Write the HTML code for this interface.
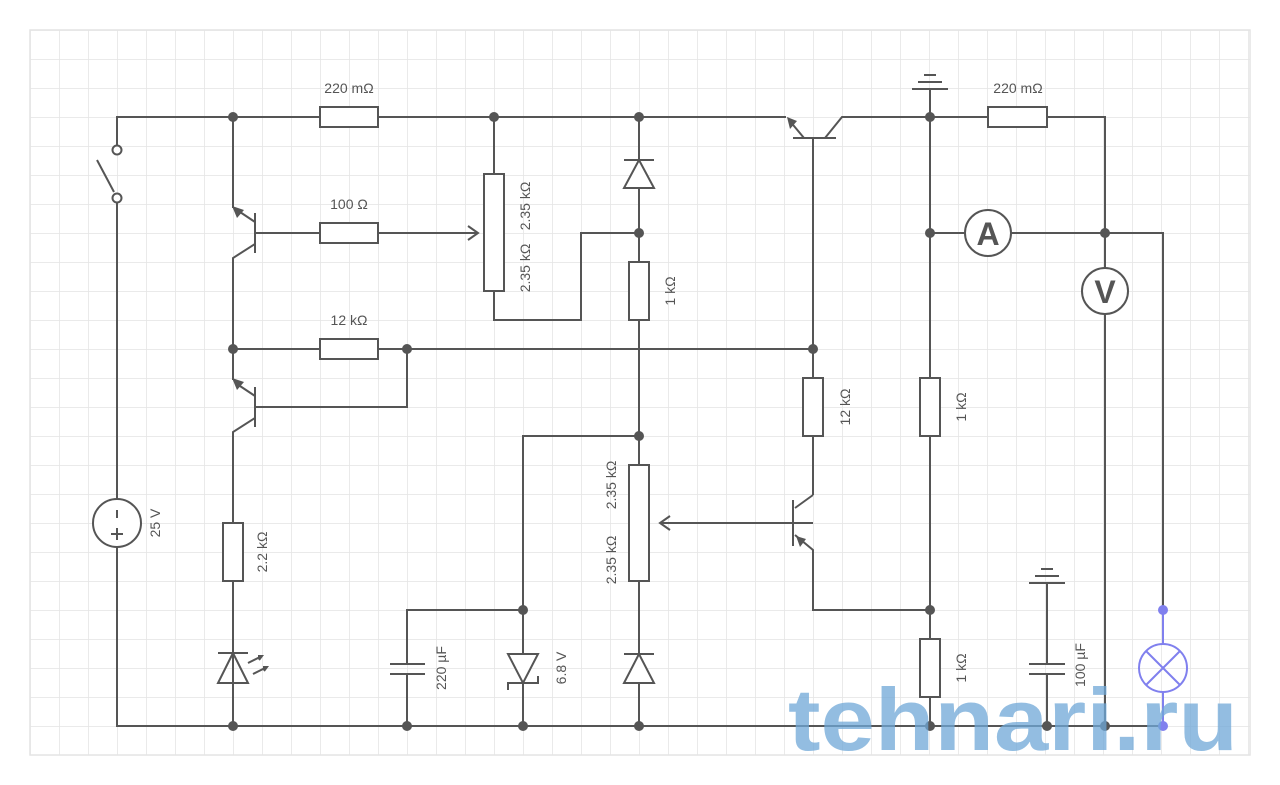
<!DOCTYPE html>
<html><head><meta charset="utf-8"><style>
body{margin:0;background:#fff;}
svg{display:block;}
text{font-family:"Liberation Sans",sans-serif;font-size:14px;fill:#555;}
</style></head><body>
<svg width="1280" height="785" viewBox="0 0 1280 785" xmlns="http://www.w3.org/2000/svg">
<defs>
<pattern id="g" x="30" y="30" width="29" height="29" patternUnits="userSpaceOnUse">
<path d="M0 0H29M0 0V29" stroke="#e4e4e4" stroke-width="1.5" fill="none"/>
</pattern>
</defs>
<rect x="30" y="30" width="1220" height="725" fill="url(#g)"/>
<rect x="30" y="30" width="1220" height="725" fill="none" stroke="#e4e4e4" stroke-width="1.5"/>
<g stroke="#555" stroke-width="2" fill="none">
<!-- top wire -->
<path d="M117 150V117H320M378 117H786"/>
<rect x="320" y="107" width="58" height="20" fill="#fff"/>
<!-- switch -->
<circle cx="117" cy="150" r="4.5" fill="#fff"/>
<circle cx="117" cy="198" r="4.5" fill="#fff"/>
<path d="M97 160L114 192"/>
<path d="M117 203V499M117 547V726H1163"/>
<circle cx="117" cy="523" r="24" fill="#fff"/>
<path d="M117 510V518M117 528V540M111 534H123"/>
<!-- T1 -->
<path d="M233 117V208"/>
<path d="M255 213V253M255 233H320M378 233H478M468 226L478 233L468 240"/>
<rect x="320" y="223" width="58" height="20" fill="#fff"/>
<path d="M255 222L237 210"/>
<path d="M255 244L233 258V349H320M378 349H813"/>
<rect x="320" y="339" width="58" height="20" fill="#fff"/>
<!-- T2 -->
<path d="M233 349V380"/>
<path d="M255 387V427M255 407H407V349"/>
<path d="M255 396L237 384"/>
<path d="M255 418L233 432V523M233 581V726"/>
<rect x="223" y="523" width="20" height="58" fill="#fff"/>
<!-- LED -->
<path d="M218 653H248M233 653L218 683H248Z"/>
<path d="M248 663L262 656M258 656L262 656L259 660M253 674L267 667M263 667L267 667L264 671"/>
<!-- pot1 -->
<path d="M494 117V174M494 291V320H581V233H639"/>
<rect x="484" y="174" width="20" height="117" fill="#fff"/>
<!-- column 639 -->
<path d="M639 117V726"/>
<rect x="629" y="262" width="20" height="58" fill="#fff"/>
<rect x="629" y="465" width="20" height="116" fill="#fff"/>
<path d="M624 160H654M639 160L624 188H654Z" fill="#fff"/>
<path d="M624 654H654M639 654L624 683H654Z" fill="#fff"/>
<path d="M813 523H660M670 516L660 523L670 530"/>
<!-- zener and cap -->
<path d="M639 436H523V726M523 610H407V664M407 674V726"/>
<path d="M390 664H425M390 674H425"/>
<path d="M508 654H538L523 683Z" fill="#fff"/>
<path d="M508 690V683H538V676"/>
<!-- T3 -->
<path d="M793 138H836M813 138V378M813 436V495"/>
<rect x="803" y="378" width="20" height="58" fill="#fff"/>
<path d="M804 138L789 120"/>
<path d="M825 138L842 117H988M1047 117H1105V268M1105 314V726"/>
<rect x="988" y="107" width="59" height="20" fill="#fff"/>
<!-- T4 -->
<path d="M793 500V546M813 495L795 508M795 535L813 550V610H930"/>
<!-- column 930 -->
<path d="M930 89V726"/>
<path d="M924 75H936M918 82H942M912 89H948"/>
<rect x="920" y="378" width="20" height="58" fill="#fff"/>
<rect x="920" y="639" width="20" height="58" fill="#fff"/>
<!-- meters -->
<path d="M930 233H1163V610"/>
<circle cx="988" cy="233" r="23" fill="#fff"/>
<circle cx="1105" cy="291" r="23" fill="#fff"/>
<!-- cap 100uF -->
<path d="M1041 569H1053M1035 576H1059M1029 583H1065M1047 583V664M1047 674V726M1029 664H1065M1029 674H1065"/>
</g>
<!-- arrowheads -->
<g fill="#555">
<path d="M232 206L244 210L237 218Z"/>
<path d="M232 378L244 382L237 390Z"/>
<path d="M787 117L797 121L790 129Z"/>
<path d="M796 536L806 539L800 547Z"/>
</g>
<!-- lamp -->
<g stroke="#8080ee" stroke-width="2" fill="none">
<path d="M1163 610V644M1163 692V726"/>
<circle cx="1163" cy="668" r="24"/>
<path d="M1146 651L1180 685M1180 651L1146 685"/>
</g>
<g fill="#8080ee"><circle cx="1163" cy="610" r="5"/><circle cx="1163" cy="726" r="5"/></g>
<!-- dots -->
<g fill="#555">
<circle cx="233" cy="117" r="5"/><circle cx="494" cy="117" r="5"/><circle cx="639" cy="117" r="5"/><circle cx="930" cy="117" r="5"/>
<circle cx="639" cy="233" r="5"/><circle cx="930" cy="233" r="5"/><circle cx="1105" cy="233" r="5"/>
<circle cx="233" cy="349" r="5"/><circle cx="407" cy="349" r="5"/><circle cx="813" cy="349" r="5"/>
<circle cx="639" cy="436" r="5"/><circle cx="523" cy="610" r="5"/><circle cx="930" cy="610" r="5"/>
<circle cx="233" cy="726" r="5"/><circle cx="407" cy="726" r="5"/><circle cx="523" cy="726" r="5"/><circle cx="639" cy="726" r="5"/>
<circle cx="930" cy="726" r="5"/><circle cx="1047" cy="726" r="5"/><circle cx="1105" cy="726" r="5"/>
</g>
<text x="988" y="245" text-anchor="middle" style="font-size:32px;font-weight:bold">A</text>
<text x="1105" y="303" text-anchor="middle" style="font-size:32px;font-weight:bold">V</text>
<!-- labels -->
<text x="349" y="93" text-anchor="middle">220 mΩ</text>
<text x="349" y="209" text-anchor="middle">100 Ω</text>
<text x="349" y="325" text-anchor="middle">12 kΩ</text>
<text x="1018" y="93" text-anchor="middle">220 mΩ</text>
<g text-anchor="middle">
<text transform="translate(160 523) rotate(-90)">25 V</text>
<text transform="translate(267 552) rotate(-90)">2.2 kΩ</text>
<text transform="translate(530 206) rotate(-90)">2.35 kΩ</text>
<text transform="translate(530 268) rotate(-90)">2.35 kΩ</text>
<text transform="translate(675 291) rotate(-90)">1 kΩ</text>
<text transform="translate(616 485) rotate(-90)">2.35 kΩ</text>
<text transform="translate(616 560) rotate(-90)">2.35 kΩ</text>
<text transform="translate(850 407) rotate(-90)">12 kΩ</text>
<text transform="translate(966 407) rotate(-90)">1 kΩ</text>
<text transform="translate(966 668) rotate(-90)">1 kΩ</text>
<text transform="translate(446 668) rotate(-90)">220 µF</text>
<text transform="translate(566 668) rotate(-90)">6.8 V</text>
<text transform="translate(1085 665) rotate(-90)">100 µF</text>
</g>
<!-- watermark -->
<text x="788" y="750" textLength="450" lengthAdjust="spacingAndGlyphs" style="font-size:88px;font-weight:bold;fill:#6fa8d8;opacity:0.75">tehnari.ru</text>
</svg>
</body></html>
